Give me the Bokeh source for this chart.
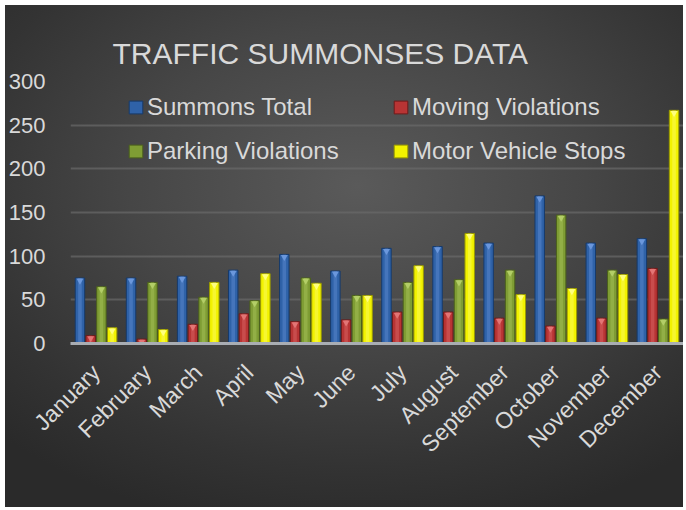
import math
from bokeh.plotting import figure
from bokeh.models import (ColumnDataSource, FactorRange, Range1d, Legend, LegendItem,
                          FixedTicker)
from bokeh.transform import dodge
from bokeh.embed import file_html
from bokeh.resources import INLINE

# ---- data ----
months = ["January", "February", "March", "April", "May", "June",
          "July", "August", "September", "October", "November", "December"]
summons_total = [75, 75, 77, 84, 102, 83, 109, 111, 115, 169, 115, 120]
moving_violations = [9, 5, 22, 34, 25, 27, 36, 36, 29, 20, 29, 86]
parking_violations = [65, 70, 53, 49, 75, 55, 70, 73, 84, 147, 84, 28]
motor_vehicle_stops = [18, 16, 70, 80, 69, 55, 89, 126, 56, 63, 79, 267]
y_ticks = [0, 50, 100, 150, 200, 250, 300]

series_names = ["Summons Total", "Moving Violations", "Parking Violations", "Motor Vehicle Stops"]
series_values = [summons_total, moving_violations, parking_violations, motor_vehicle_stops]
base_colors = ["#2f62a8", "#b83434", "#7f9d34", "#f2f200"]
edge_colors = ["#163a6b", "#6e1a1a", "#4b601c", "#9a9a00"]
light_colors = ["#6f9be0", "#e57a7a", "#b7d26a", "#ffff8a"]
offsets = [-0.315, -0.105, 0.105, 0.315]

TXT = "#d9d9d9"
FONT = "Liberation Sans"

data = {"month": months}
for i, vals in enumerate(series_values):
    data[f"s{i}"] = vals
    data[f"t{i}"] = [v - 3.0 for v in vals]
source = ColumnDataSource(data)

p = figure(x_range=FactorRange(*months, range_padding=0), y_range=Range1d(0, 300),
           width=678, height=502, output_backend="svg", toolbar_location=None,
           min_border_left=65, min_border_right=0, min_border_top=76, min_border_bottom=164)

p.styles = {"margin": "5px 0 0 5px",
            "background": "radial-gradient(ellipse 75% 70% at 52% 36%, #5a5a5a 0%, #464646 45%, #333333 80%, #2a2a2a 100%)"}
p.background_fill_alpha = 0
p.border_fill_alpha = 0
p.outline_line_color = None

p.title.text = "TRAFFIC SUMMONSES DATA"
p.title.text_font = FONT
p.title.text_font_size = "30px"
p.title.text_font_style = "normal"
p.title.text_color = TXT
p.title.align = "left"
p.title.offset = 42
p.title.standoff = 23

base_renderers = []
for i, vals in enumerate(series_values):
    xd = dodge("month", offsets[i], range=p.x_range)
    r = p.vbar(x=xd, top=f"s{i}", width=0.185, source=source,
               fill_color=base_colors[i], line_color=edge_colors[i], line_width=1)
    p.vbar(x=xd, top=f"s{i}", width=0.07, source=source,
           fill_color=light_colors[i], fill_alpha=0.35, line_color=None)
    p.scatter(x=xd, y=f"t{i}", source=source, marker="inverted_triangle", size=7,
              fill_color=light_colors[i], line_color=None, fill_alpha=0.9)
    base_renderers.append(r)

# axes
p.xaxis.axis_line_color = "#a9adb3"
p.xaxis.axis_line_width = 3
p.xaxis.major_tick_line_color = None
p.xaxis.minor_tick_line_color = None
p.xaxis.major_label_orientation = math.pi / 4
p.xaxis.major_label_text_font = FONT
p.xaxis.major_label_text_font_size = "23px"
p.xaxis.major_label_text_color = TXT
p.xaxis.major_label_standoff = 19

p.yaxis.ticker = FixedTicker(ticks=y_ticks)
p.yaxis.axis_line_color = None
p.yaxis.major_tick_line_color = None
p.yaxis.minor_tick_line_color = None
p.yaxis.major_label_text_font = FONT
p.yaxis.major_label_text_font_size = "22px"
p.yaxis.major_label_text_color = TXT
p.yaxis.major_label_standoff = 19

p.xgrid.grid_line_color = None
p.ygrid.grid_line_color = "#6a6a6a"
p.ygrid.grid_line_width = 2
p.ygrid.grid_line_alpha = 0.7

def make_legend(idx, loc):
    items = [LegendItem(label=series_names[k], renderers=[base_renderers[k]]) for k in idx]
    lg = Legend(items=items, location=loc, orientation="vertical",
                glyph_width=17, glyph_height=16, label_standoff=3,
                label_text_font=FONT, label_text_font_size="24px", label_text_color=TXT,
                background_fill_alpha=0, border_line_color=None,
                padding=0, margin=0, spacing=16)
    return lg

p.add_layout(make_legend([0, 2], (57, 178)))
p.add_layout(make_legend([1, 3], (322, 178)))

open("out.html", "w").write(file_html(p, INLINE))
